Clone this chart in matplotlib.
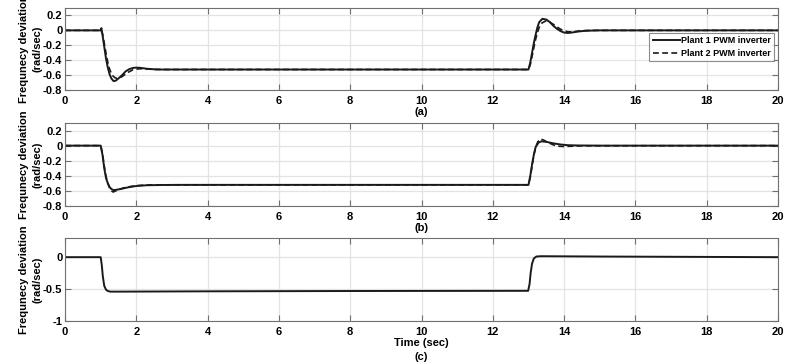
import matplotlib
matplotlib.use("Agg")
import matplotlib.pyplot as plt

plt.rcParams['font.family'] = ['Liberation Sans', 'DejaVu Sans']
plt.rcParams['font.weight'] = 'bold'
plt.rcParams['font.size'] = 7.5

# panel (a)
ta1 = [0, 1.0, 1.02, 1.05, 1.1, 1.15, 1.2, 1.25, 1.3, 1.36, 1.42, 1.5, 1.6, 1.7, 1.8, 1.9,
       1.97, 2.05, 2.15, 2.3, 2.5, 2.7, 3.0, 13.0, 13.05, 13.1, 13.15, 13.2, 13.25, 13.3,
       13.39, 13.5, 13.6, 13.7, 13.8, 13.9, 14.0, 14.1, 14.2, 14.4, 14.6, 15.0, 20.0]
va1 = [0, 0, 0.03, -0.06, -0.22, -0.38, -0.5, -0.59, -0.645, -0.68, -0.675, -0.645, -0.6, -0.55,
       -0.52, -0.505, -0.5, -0.5, -0.505, -0.515, -0.522, -0.525, -0.525, -0.525, -0.43, -0.3,
       -0.17, -0.06, 0.04, 0.11, 0.155, 0.145, 0.11, 0.06, 0.02, -0.01, -0.03, -0.035, -0.03,
       -0.015, -0.005, 0.0, 0.0]
ta2 = [0, 1.0, 1.05, 1.1, 1.15, 1.2, 1.25, 1.3, 1.35, 1.4, 1.46, 1.52, 1.6, 1.7, 1.8, 1.9,
       2.0, 2.1, 2.2, 2.35, 2.55, 2.8, 3.0, 13.0, 13.05, 13.1, 13.15, 13.2, 13.25, 13.3, 13.38,
       13.48, 13.58, 13.7, 13.8, 13.9, 14.0, 14.1, 14.2, 14.3, 14.5, 14.8, 20.0]
va2 = [0, 0, -0.04, -0.17, -0.31, -0.43, -0.52, -0.58, -0.615, -0.635, -0.645, -0.64, -0.62,
       -0.585, -0.555, -0.53, -0.52, -0.515, -0.515, -0.52, -0.525, -0.525, -0.525, -0.525,
       -0.46, -0.35, -0.23, -0.12, -0.03, 0.04, 0.1, 0.125, 0.115, 0.08, 0.045, 0.015, -0.005,
       -0.018, -0.02, -0.015, -0.005, 0.0, 0.0]

# panel (b)
tb1 = [0, 1.0, 1.05, 1.1, 1.15, 1.2, 1.25, 1.3, 1.36, 1.45, 1.6, 1.8, 2.0, 2.3, 2.7, 3.2,
       13.0, 13.05, 13.1, 13.15, 13.2, 13.28, 13.36, 13.5, 13.7, 13.9, 14.1, 14.4, 15.0, 20.0]
vb1 = [0, 0, -0.12, -0.3, -0.43, -0.5, -0.55, -0.575, -0.59, -0.585, -0.57, -0.55, -0.535,
       -0.525, -0.522, -0.52, -0.52, -0.4, -0.25, -0.12, -0.02, 0.04, 0.057, 0.05, 0.03, 0.015,
       0.006, 0.002, 0.0, 0.0]
tb2 = [0, 1.0, 1.05, 1.1, 1.15, 1.2, 1.25, 1.3, 1.35, 1.42, 1.5, 1.65, 1.8, 2.0, 2.3, 2.7,
       3.2, 13.0, 13.05, 13.1, 13.15, 13.2, 13.26, 13.33, 13.42, 13.55, 13.7, 13.85, 14.0,
       14.2, 14.5, 20.0]
vb2 = [0, 0, -0.1, -0.27, -0.41, -0.5, -0.56, -0.6, -0.615, -0.6, -0.585, -0.56, -0.545,
       -0.53, -0.522, -0.52, -0.52, -0.52, -0.42, -0.27, -0.13, -0.02, 0.05, 0.088, 0.075,
       0.04, 0.01, -0.008, -0.012, -0.008, -0.002, 0.0]

# panel (c)
tc = [0, 1.0, 1.03, 1.06, 1.1, 1.15, 1.2, 1.27, 1.4, 4.0, 8.0, 12.99, 13.03, 13.06, 13.1,
      13.15, 13.22, 13.35, 15.0, 20.0]
vc = [0, 0, -0.12, -0.3, -0.45, -0.51, -0.53, -0.54, -0.54, -0.535, -0.53, -0.527, -0.42,
      -0.25, -0.1, -0.02, 0.01, 0.015, 0.01, 0.0]

xticks = [0, 2, 4, 6, 8, 10, 12, 14, 16, 18, 20]
ylab = 'Frequnecy deviation\n(rad/sec)'
lc = '#1a1a1a'
dash = (3.5, 2)

fig = plt.figure(figsize=(7.98, 3.64), dpi=100)
ax_a = fig.add_axes([0.0815, 0.7527, 0.8935, 0.2253])
ax_b = fig.add_axes([0.0815, 0.4341, 0.8935, 0.2280])
ax_c = fig.add_axes([0.0815, 0.1181, 0.8935, 0.2280])

ax_a.plot(ta1, va1, '-', color=lc, lw=1.4, label='Plant 1 PWM inverter')
ax_a.plot(ta2, va2, '--', color=lc, lw=1.2, dashes=dash, label='Plant 2 PWM inverter')
ax_b.plot(tb1, vb1, '-', color=lc, lw=1.4)
ax_b.plot(tb2, vb2, '--', color=lc, lw=1.2, dashes=dash)
ax_c.plot(tc, vc, '-', color=lc, lw=1.4)

for ax in (ax_a, ax_b):
    ax.set_ylim(-0.8, 0.3)
    ax.set_yticks([-0.8, -0.6, -0.4, -0.2, 0, 0.2])
    ax.set_yticklabels(['-0.8', '-0.6', '-0.4', '-0.2', '0', '0.2'])
ax_c.set_ylim(-1, 0.3)
ax_c.set_yticks([-1, -0.5, 0])
ax_c.set_yticklabels(['-1', '-0.5', '0'])

for ax, lab in ((ax_a, '(a)'), (ax_b, '(b)'), (ax_c, 'Time (sec)\n(c)')):
    ax.set_xlim(0, 20)
    ax.set_xticks(xticks)
    ax.grid(True, color='#e3e3e3', lw=0.9)
    ax.set_axisbelow(True)
    ax.tick_params(direction='in', length=4, width=0.8, color='#707070',
                   top=True, right=True, labelsize=8)
    ax.tick_params(axis='x', pad=4)
    ax.tick_params(axis='y', pad=2)
    for s in ax.spines.values():
        s.set_color('#707070')
        s.set_linewidth(0.8)
    ax.set_ylabel(ylab, fontsize=8, fontweight='bold', labelpad=0, linespacing=1.5)
    ax.set_xlabel(lab, fontsize=8, fontweight='bold', labelpad=1, linespacing=1.5)

leg = ax_a.legend(loc='upper right', bbox_to_anchor=(0.995, 0.70), fontsize=6.5,
                  frameon=True, fancybox=False, edgecolor='#707070', handlelength=3.0,
                  handletextpad=0.2, borderpad=0.35, labelspacing=0.45, borderaxespad=0)
leg.get_frame().set_linewidth(0.8)

fig.savefig('out.png', dpi=100)
